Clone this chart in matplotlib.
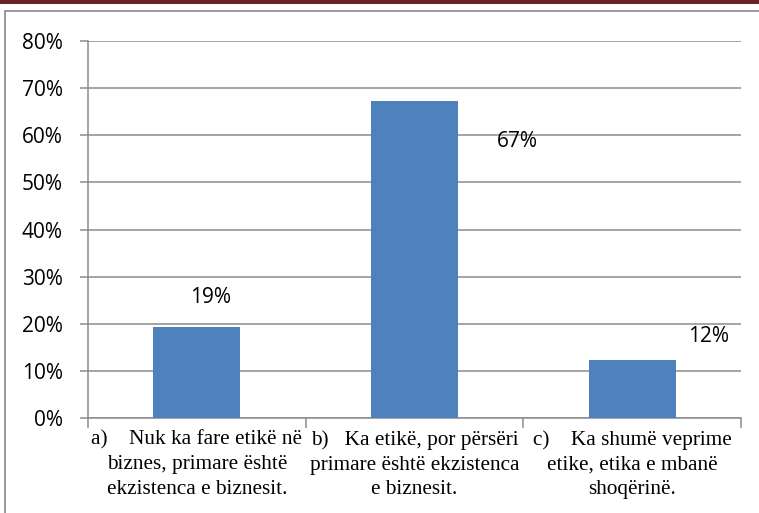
import matplotlib.pyplot as plt
from matplotlib.patches import Rectangle
from matplotlib.ticker import PercentFormatter

# data
categories = [
    "a)    Nuk ka fare etikë në\nbiznes, primare është\nekzistenca e biznesit.",
    "b)   Ka etikë, por përsëri\nprimare është ekzistenca\ne biznesit.",
    "c)    Ka shumë veprime\netike, etika e mbanë\nshoqërinë.",
]
values = [0.194, 0.673, 0.123]
value_labels = ["19%", "67%", "12%"]

# label offsets (points) to mimic the excel placement
label_offsets = [(10, 21), (74, -29), (55, 17)]

fig = plt.figure(figsize=(7.59, 5.13), dpi=100)

# dark red rule at the top and the grey chart frame
fig.patches.append(Rectangle((0, 1 - 4 / 513), 1, 4 / 513, transform=fig.transFigure,
                             facecolor="#6b2125", edgecolor="none"))
fig.patches.append(Rectangle((4.5 / 759, -0.05), 1.1, 1 - 11.5 / 513 + 0.05,
                             transform=fig.transFigure, facecolor="none",
                             edgecolor="#878787", linewidth=1.2))

ax = fig.add_axes([88 / 759, 1 - 418 / 513, (741 - 88) / 759, (418 - 41) / 513])
x = range(len(values))
bars = ax.bar(x, values, width=0.4, color="#4F81BD", zorder=3)

ax.set_ylim(0, 0.8)
ax.set_xlim(-0.5, 2.5)
ax.set_yticks([i / 10 for i in range(9)])
ax.yaxis.set_major_formatter(PercentFormatter(1.0, decimals=0))
ax.grid(axis="y", color="#8c8c8c", linewidth=1.1, zorder=0)
ax.set_axisbelow(True)

for s in ["top", "right"]:
    ax.spines[s].set_visible(False)
for s in ["left", "bottom"]:
    ax.spines[s].set_color("#8c8c8c")
    ax.spines[s].set_linewidth(1.1)

ax.tick_params(axis="y", length=6, color="#8c8c8c", width=1.1, pad=12, labelsize=15)
for t in ax.get_yticklabels():
    t.set_family(["Open Sans", "DejaVu Sans"])

# category boundaries ticks on x axis
ax.set_xticks([-0.5, 0.5, 1.5, 2.5])
ax.set_xticklabels([])
ax.tick_params(axis="x", length=7, color="#8c8c8c", width=1.1)

for i, lab in enumerate(categories):
    ax.text(i, -0.026, lab, ha="center", va="top", multialignment="center",
            fontsize=15.3, family="Liberation Serif", linespacing=1.4,
            transform=ax.transData)

for rect, lab, off in zip(bars, value_labels, label_offsets):
    ax.annotate(lab, (rect.get_x() + rect.get_width() / 2, rect.get_height()),
                xytext=off, textcoords="offset points", ha="center", va="center",
                fontsize=15, family="Open Sans")

fig.savefig("out.png", dpi=100)
